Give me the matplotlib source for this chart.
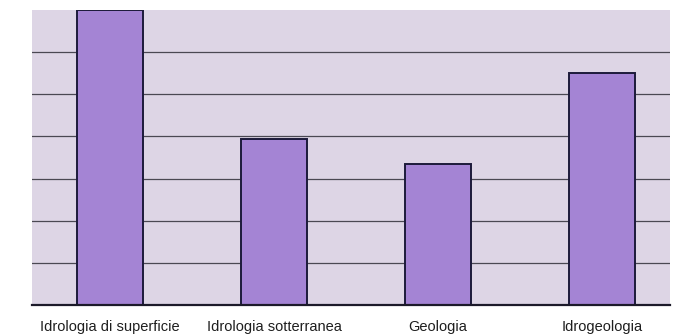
import matplotlib
matplotlib.use("Agg")
import matplotlib.pyplot as plt
from matplotlib import font_manager

categories = ["Idrologia di superficie", "Idrologia sotterranea", "Geologia", "Idrogeologia"]
values = [7.0, 3.95, 3.35, 5.5]
gridlines = [1, 2, 3, 4, 5, 6]

names = {f.name for f in font_manager.fontManager.ttflist}
label_family = ["Liberation Sans Narrow", "DejaVu Sans"] if "Liberation Sans Narrow" in names else ["Liberation Sans", "DejaVu Sans"]

fig = plt.figure(figsize=(6.77, 3.34), dpi=100)
fig.patch.set_facecolor("white")
ax = fig.add_axes([0.0473, 0.087, 0.9424, 0.883])
ax.set_facecolor("#ddd5e5")

x = list(range(len(categories)))
ax.set_axisbelow(True)
for g in gridlines:
    ax.axhline(g, color="#4a4852", linewidth=0.9, zorder=1)
ax.bar(x, values, width=0.4, color="#a484d4", edgecolor="#1c1a3a", linewidth=1.4, zorder=2)

ax.set_xlim(-0.476, 3.415)
ax.set_ylim(0, 7)
for s in ("top", "right", "left"):
    ax.spines[s].set_visible(False)
ax.spines["bottom"].set_color("#1c1a2a")
ax.spines["bottom"].set_linewidth(1.6)
ax.set_yticks([])
ax.set_xticks(x)
ax.set_xticklabels(categories, family=label_family, fontsize=10.5, color="#1e1e1e")
ax.tick_params(axis="x", length=0, pad=11)

fig.savefig("out.png", dpi=100)
